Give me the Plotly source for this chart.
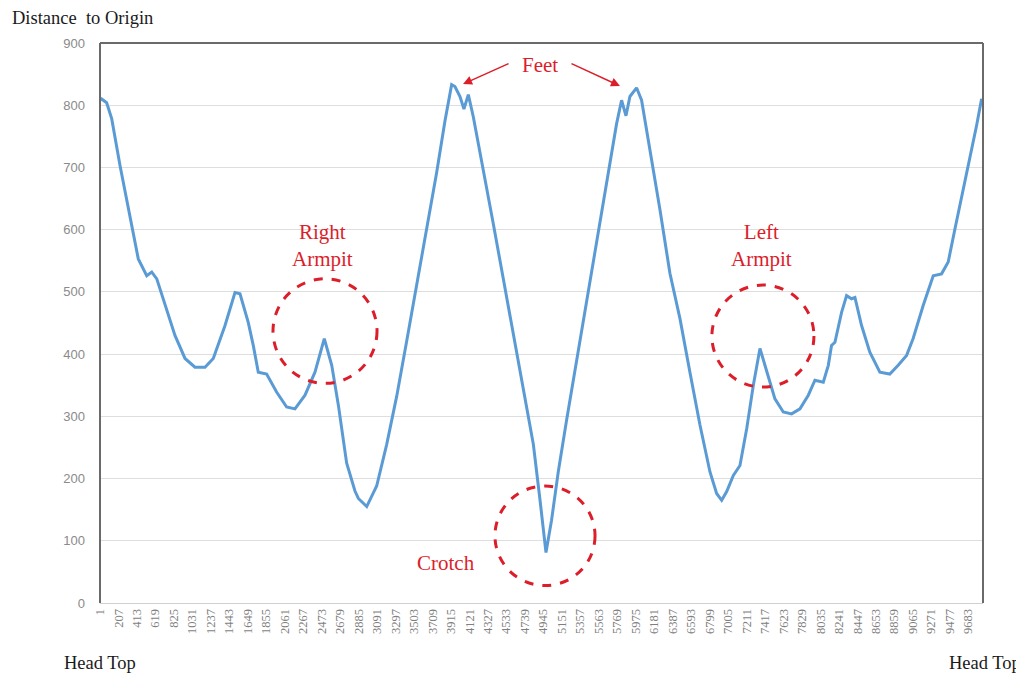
import plotly.graph_objects as go

# Sample index (point number along the body contour) and distance to origin
sample_index = [1, 19, 75, 132, 224, 316, 428, 522, 578, 634, 726, 837, 949, 1060, 1172, 1264,
                1395, 1506, 1562, 1654, 1710, 1766, 1859, 1970, 2082, 2175, 2287, 2398, 2502,
                2585, 2659, 2751, 2844, 2882, 2975, 3086, 3198, 3309, 3421, 3532, 3644, 3755,
                3848, 3922, 3959, 4015, 4059, 4108, 4164, 4275, 4387, 4498, 4610, 4721, 4833,
                4907, 4974, 5036, 5111, 5204, 5315, 5427, 5538, 5650, 5761, 5817, 5866, 5910,
                5984, 6040, 6133, 6245, 6356, 6468, 6579, 6691, 6802, 6877, 6933, 6989, 7063,
                7137, 7212, 7286, 7360, 7435, 7527, 7620, 7713, 7806, 7899, 7973, 8066, 8122,
                8158, 8196, 8270, 8326, 8381, 8419, 8493, 8585, 8697, 8808, 8901, 8995, 9068,
                9180, 9292, 9385, 9459, 9534, 9626, 9719, 9775, 9831, 9847]
distance = [808, 810, 804, 778, 703, 633, 553, 526, 532, 521, 478, 430, 393, 379, 379, 393,
            446, 499, 497, 451, 414, 371, 368, 339, 315, 312, 334, 371, 425,
            382, 318, 225, 180, 168, 155, 188, 255, 332, 421, 509, 598, 692,
            775, 833, 830, 814, 794, 817, 781, 698, 609, 521, 432, 343, 255,
            166, 81, 133, 211, 294, 388, 482, 576, 670, 770, 808, 783, 814,
            828, 808, 731, 632, 530, 457, 371, 286, 211, 176, 165, 179, 205,
            221, 280, 350, 409, 371, 328, 307, 304, 312, 334, 358, 355, 382,
            414, 419, 467, 494, 489, 491, 446, 403, 371, 368, 382, 398, 425,
            478, 526, 529, 548, 601, 665, 724, 767, 810, 803]

x_tick_labels = [1, 207, 413, 619, 825, 1031, 1237, 1443, 1649, 1855, 2061, 2267, 2473, 2679,
                 2885, 3091, 3297, 3503, 3709, 3915, 4121, 4327, 4533, 4739, 4945, 5151, 5357,
                 5563, 5769, 5975, 6181, 6387, 6593, 6799, 7005, 7211, 7417, 7623, 7829, 8035,
                 8241, 8447, 8653, 8859, 9065, 9271, 9477, 9683]
y_tick_labels = [0, 100, 200, 300, 400, 500, 600, 700, 800, 900]

RED = "#dc1e2a"
SERIF = "Liberation Serif"

fig = go.Figure()
fig.add_trace(go.Scatter(x=sample_index, y=distance, mode="lines",
                         line=dict(color="#5b9bd5", width=3), showlegend=False,
                         hoverinfo="x+y"))

fig.update_layout(
    width=1016, height=667,
    margin=dict(l=92, r=41, t=35, b=72),
    paper_bgcolor="white", plot_bgcolor="white",
    xaxis=dict(range=[1, 9847], tickmode="array", tickvals=x_tick_labels,
               ticktext=[str(v) for v in x_tick_labels], tickangle=-90,
               tickfont=dict(family=SERIF, size=12.5, color="#7f7f7f"),
               showgrid=False, zeroline=False, showline=True, linecolor="#d0d0d0",
               linewidth=1, ticks=""),
    yaxis=dict(range=[0, 900], tickmode="array", tickvals=y_tick_labels,
               tickfont=dict(family="Liberation Sans", size=13, color="#8a8a8a"),
               showgrid=True, gridcolor="#dedede", gridwidth=1, zeroline=False,
               showline=False, ticks="", ticklabelstandoff=14),
)

# frame of the plot area (left, top, right)
frame = dict(type="line", xref="paper", yref="paper", line=dict(color="#6a6a6a", width=2))
fig.add_shape(**frame, x0=0, x1=0, y0=0, y1=1)
fig.add_shape(**frame, x0=0, x1=1, y0=1, y1=1)
fig.add_shape(**frame, x0=1, x1=1, y0=0, y1=1)

# dashed circles
circ = dict(type="circle", xref="x", yref="y", line=dict(color=RED, width=3, dash="dash"))
fig.add_shape(**circ, x0=1930, x1=3090, y0=353, y1=521)
fig.add_shape(**circ, x0=6824, x1=7962, y0=347, y1=511)
fig.add_shape(**circ, x0=4405, x1=5521, y0=28, y1=188)

txt = dict(font=dict(family=SERIF, size=21, color=RED), showarrow=False, xref="x", yref="y")
fig.add_annotation(**txt, x=2487, y=575, text="Right<br>Armpit")
fig.add_annotation(**txt, x=7382, y=575, text="Left<br>Armpit")
fig.add_annotation(**txt, x=3859, y=64, text="Crotch")
fig.add_annotation(**txt, x=4907, y=865, text="Feet")

arr = dict(xref="x", yref="y", axref="x", ayref="y", showarrow=True, arrowhead=2,
           arrowsize=1.2, arrowwidth=1.5, arrowcolor=RED, text="")
fig.add_annotation(**arr, x=4049, y=834, ax=4573, ay=868)
fig.add_annotation(**arr, x=5799, y=831, ax=5242, ay=868)

lab = dict(font=dict(family=SERIF, size=18.5, color="#1a1a1a"), showarrow=False,
           xref="paper", yref="paper")
fig.add_annotation(**lab, x=-0.1019, y=1.0446, xanchor="left", yanchor="middle",
                   text="Distance  to Origin")
fig.add_annotation(**lab, x=-0.043, y=-0.107, xanchor="left", yanchor="middle", text="Head Top")
fig.add_annotation(**lab, x=1.045, y=-0.107, xanchor="right", yanchor="middle", text="Head Top")

fig.write_html("out.html")
